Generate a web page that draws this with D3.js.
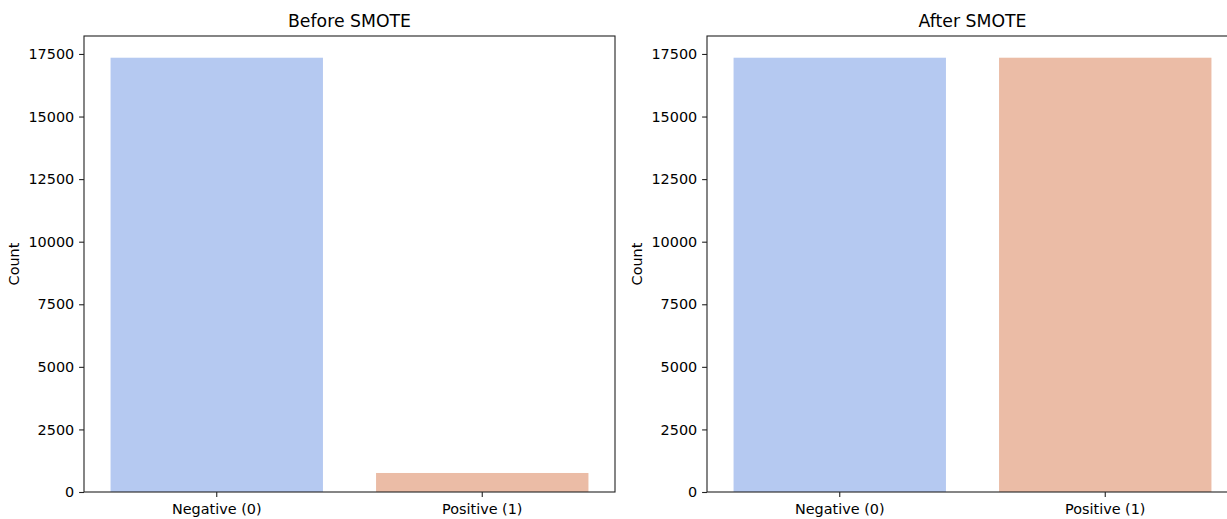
<!DOCTYPE html>
<html>
<head>
<meta charset="utf-8">
<script src="https://cdn.jsdelivr.net/npm/d3@7"></script>
<style>
  html, body { margin: 0; padding: 0; background: #fff; overflow: hidden; }
  text { font-family: "DejaVu Sans", sans-serif; fill: #000; }
</style>
</head>
<body>
<svg id="chart" width="1227" height="519"></svg>
<script>
const categories = ["Negative (0)", "Positive (1)"];
const beforeCounts = [17350, 760];
const afterCounts = [17350, 17350];
const panelTitles = ["Before SMOTE", "After SMOTE"];
const yTicks = [0, 2500, 5000, 7500, 10000, 12500, 15000, 17500];
const barColors = ["#b5c9f1", "#ebbca6"];

const svg = d3.select("#chart");
const panels = [
  { title: panelTitles[0], values: beforeCounts, x0: 84, x1: 615 },
  { title: panelTitles[1], values: afterCounts, x0: 707, x1: 1238 }
];
const yTop = 36, yBottom = 492;
const yMax = d3.max([...beforeCounts, ...afterCounts]) * 1.05;

panels.forEach(p => {
  const g = svg.append("g");
  const x = d3.scaleBand().domain(categories).range([p.x0, p.x1]).paddingInner(0.2).paddingOuter(0.1);
  const y = d3.scaleLinear().domain([0, yMax]).range([yBottom, yTop]);

  g.selectAll("rect.bar").data(categories).enter().append("rect")
    .attr("class", "bar")
    .attr("x", d => x(d))
    .attr("width", x.bandwidth())
    .attr("y", (d, i) => y(p.values[i]))
    .attr("height", (d, i) => y(0) - y(p.values[i]))
    .attr("fill", (d, i) => barColors[i]);

  // frame
  g.append("rect")
    .attr("x", p.x0).attr("y", yTop)
    .attr("width", p.x1 - p.x0).attr("height", yBottom - yTop)
    .attr("fill", "none").attr("stroke", "#222").attr("stroke-width", 1.1);

  const yAxis = d3.axisLeft(y).tickValues(yTicks).tickSize(4.9).tickPadding(4.9).tickFormat(d3.format("d"));
  const ya = g.append("g").attr("transform", `translate(${p.x0},0)`).call(yAxis);
  ya.select(".domain").remove();
  ya.selectAll("line").attr("stroke", "#222").attr("stroke-width", 1.1);
  ya.selectAll("text").style("font-size", "14.4px").style("font-family", "DejaVu Sans").attr("fill", "#111");

  const xAxis = d3.axisBottom(x).tickSize(4.9).tickPadding(6.5);
  const xa = g.append("g").attr("transform", `translate(0,${yBottom})`).call(xAxis);
  xa.select(".domain").remove();
  xa.selectAll("line").attr("stroke", "#222").attr("stroke-width", 1.1);
  xa.selectAll("text").style("font-size", "14.4px").style("font-family", "DejaVu Sans").attr("fill", "#111");

  g.append("text")
    .attr("x", (p.x0 + p.x1) / 2).attr("y", 27)
    .attr("text-anchor", "middle")
    .style("font-size", "17.3px")
    .attr("fill", "#111")
    .text(p.title);

  g.append("text")
    .attr("transform", `translate(${p.x0 - 65},${(yTop + yBottom) / 2}) rotate(-90)`)
    .attr("text-anchor", "middle")
    .style("font-size", "14.4px")
    .attr("fill", "#111")
    .text("Count");
});
</script>
</body>
</html>
